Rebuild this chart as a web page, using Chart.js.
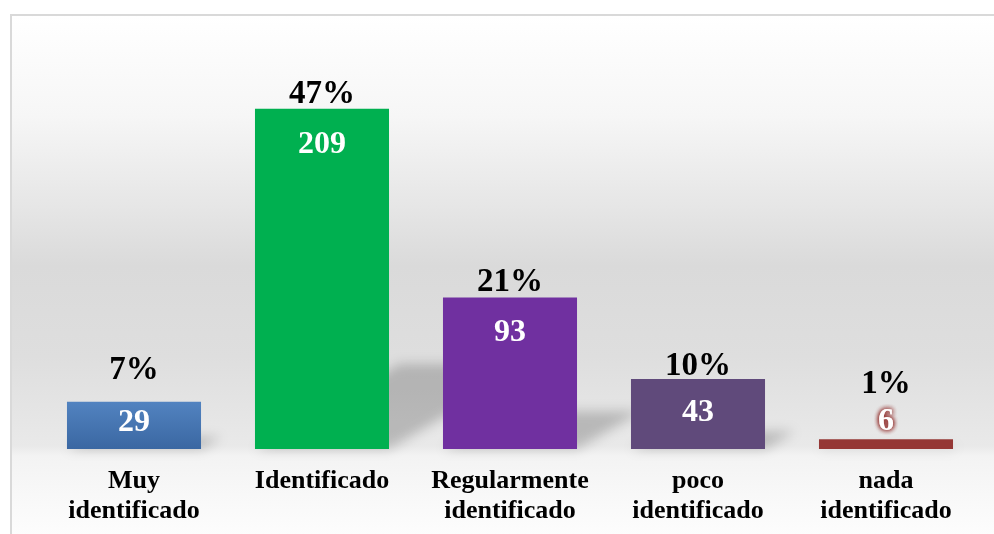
<!DOCTYPE html>
<html>
<head>
<meta charset="utf-8">
<script src="https://cdn.jsdelivr.net/npm/chart.js@4.4.1/dist/chart.umd.min.js"></script>
<style>
  html, body { margin: 0; padding: 0; background: #fff; }
  #wrap {
    position: relative; width: 994px; height: 534px; overflow: hidden;
  }
  #frame {
    position: absolute; left: 10px; top: 14px; width: 990px; height: 530px;
    border-top: 2px solid #d9d9d9; border-left: 2px solid #d9d9d9;
    background: linear-gradient(to bottom,
      #ffffff 0px, #f6f6f6 100px, #e6e6e6 190px, #dadada 250px,
      #dedede 340px, #e9e9e9 430px, #f3f3f3 440px, #f7f7f7 470px, #fdfdfd 520px);
  }
  canvas { position: absolute; left: 0; top: 0; }
</style>
</head>
<body>
<div id="wrap">
  <div id="frame"></div>
  <canvas id="chart" width="994" height="534"></canvas>
</div>
<script>
/* DATA */
const categories = [["Muy", "identificado"], "Identificado", ["Regularmente", "identificado"], ["poco", "identificado"], ["nada", "identificado"]];
const counts = [29, 209, 93, 43, 6];
const percentLabels = ["7%", "47%", "21%", "10%", "1%"];

/* styles */
const barColors = ["#4f81bd", "#00b050", "#7030a0", "#604a7b", "#953735"];
const pctOffsets = [-23, -6, -7, -4, -46];   // baseline relative to bar top
const valOffsets = [29, 44, 43, 42, -9];     // baseline relative to bar top
const serif = "'Liberation Serif', 'Times New Roman', serif";

const shadowPlugin = {
  id: "barShadows",
  beforeDatasetsDraw(chart) {
    const ctx = chart.ctx;
    const meta = chart.getDatasetMeta(0);
    ctx.save();
    ctx.filter = "blur(6px)";
    ctx.fillStyle = "rgba(0,0,0,0.2)";
    meta.data.forEach(bar => {
      const h = bar.base - bar.y;
      const dy = 0.25 * h;
      const dx = 1.7 * dy;
      const l = bar.x - bar.width / 2, r = bar.x + bar.width / 2;
      ctx.beginPath();
      ctx.moveTo(l, bar.base);
      ctx.lineTo(r, bar.base);
      ctx.lineTo(r + dx, bar.base - dy);
      ctx.lineTo(l + dx, bar.base - dy);
      ctx.closePath();
      ctx.fill();
    });
    ctx.restore();
  }
};

const labelPlugin = {
  id: "barLabels",
  afterDatasetsDraw(chart) {
    const ctx = chart.ctx;
    const meta = chart.getDatasetMeta(0);
    ctx.save();
    ctx.textAlign = "center";
    ctx.textBaseline = "alphabetic";
    meta.data.forEach((bar, i) => {
      ctx.font = "bold 33px " + serif;
      ctx.fillStyle = "#000";
      ctx.fillText(percentLabels[i], bar.x, bar.y + pctOffsets[i]);

      ctx.font = "bold 32px " + serif;
      ctx.fillStyle = "#fff";
      if (valOffsets[i] < 0) {
        ctx.shadowColor = barColors[i];
        ctx.shadowBlur = 5;
        for (let k = 0; k < 3; k++) ctx.fillText(String(counts[i]), bar.x, bar.y + valOffsets[i]);
        ctx.shadowBlur = 0;
      } else {
        ctx.fillText(String(counts[i]), bar.x, bar.y + valOffsets[i]);
      }
    });
    ctx.restore();
  }
};

new Chart(document.getElementById("chart"), {
  type: "bar",
  data: {
    labels: categories,
    datasets: [
      {
        data: counts,
        backgroundColor: function (context) {
          const chart = context.chart;
          const i = context.dataIndex;
          if (i === 0 && chart.chartArea && chart.scales.y) {
            const top = chart.scales.y.getPixelForValue(counts[0]);
            const bottom = chart.scales.y.getPixelForValue(0);
            const g = chart.ctx.createLinearGradient(0, top, 0, bottom);
            g.addColorStop(0, "#5283c0");
            g.addColorStop(1, "#3a67a2");
            return g;
          }
          return barColors[i];
        },
        categoryPercentage: 0.713,
        barPercentage: 1.0
      }
    ]
  },
  options: {
    responsive: false,
    animation: false,
    layout: { padding: { left: 40, right: 14, top: 42, bottom: 0 } },
    plugins: {
      legend: { display: false },
      tooltip: { enabled: false }
    },
    scales: {
      y: {
        display: false,
        min: 0,
        max: 250
      },
      x: {
        grid: { display: false },
        border: { display: false },
        afterFit: function (scale) { scale.height = 85; },
        ticks: {
          color: "#000",
          padding: 9,
          maxRotation: 0,
          autoSkip: false,
          font: { family: serif, size: 26, weight: "bold", lineHeight: 1.15 }
        }
      }
    }
  },
  plugins: [shadowPlugin, labelPlugin]
});
</script>
</body>
</html>
